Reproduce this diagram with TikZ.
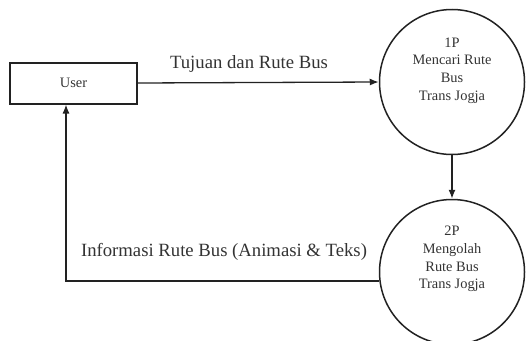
\documentclass[tikz,border=0pt]{standalone}
\usepackage{fontspec}
\setmainfont{Liberation Serif}
\usetikzlibrary{arrows.meta}
\definecolor{ink}{HTML}{222222}
\definecolor{txt}{HTML}{333333}
\tikzset{
  proc/.style={circle,draw=ink,line width=1.5pt,minimum size=145pt,inner sep=0pt},
  ent/.style={rectangle,draw=ink,line width=2pt,minimum width=127pt,minimum height=41pt,inner sep=0pt,
    font=\fontsize{14.4}{17.5}\selectfont,text=txt},
  ptext/.style={align=center,font=\fontsize{14.4}{17.6}\selectfont,text=txt,inner sep=0pt},
  flowlbl/.style={font=\fontsize{18.7}{22}\selectfont,text=txt,inner sep=0pt},
  flow/.style={draw=ink,line width=1.3pt,-{Latex[length=9pt,width=7pt]}}
}
\begin{document}
\begin{tikzpicture}[x=1pt,y=-1pt]
\useasboundingbox (0,0) rectangle (527,340);
\node[ent] (user) at (73.5,83) {User};
\node[proc] (p1) at (452,82) {};
\node[proc] (p2) at (452,272) {};
\node[ptext] (t1) at (452,70.5) {1P\\Mencari Rute\\Bus\\Trans Jogja};
\node[ptext] (t2) at (452,259) {2P\\Mengolah\\Rute Bus\\Trans Jogja};
\node[flowlbl] (l1) at (249,64) {Tujuan dan Rute Bus};
\node[flowlbl] (l2) at (224,252) {Informasi Rute Bus (Animasi \& Teks)};
\coordinate (c1) at (66,281);
\draw[flow] (user.east) -- (p1.west);
\draw[flow] (p1.south) -- (p2.north);
\draw[flow] (p2.west |- c1) -- (c1) -- (c1 |- user.south);
\end{tikzpicture}
\end{document}
